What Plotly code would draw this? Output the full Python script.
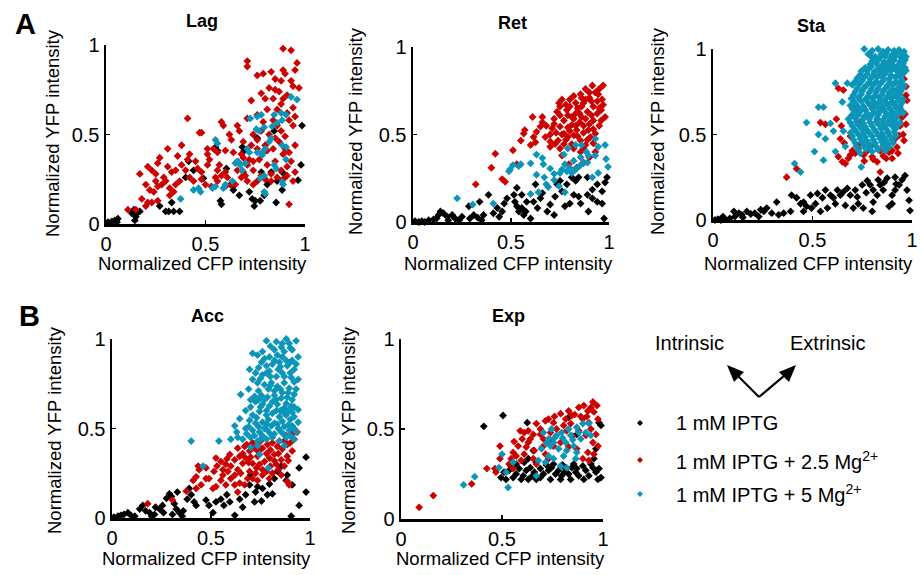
import plotly.graph_objects as go

# ---------------- data ----------------
panels = ["Lag", "Ret", "Sta", "Acc", "Exp"]
series_names = ["1 mM IPTG", "1 mM IPTG + 2.5 Mg<sup>2+</sup>", "1 mM IPTG + 5 Mg<sup>2+</sup>"]
tick_vals = [0, 0.5, 1]
tick_text = ["0", "0.5", "1"]

lag_black = [(0.01,0.01),(0.03,0.015),(0.045,0.02),(0.055,0.01),(0.02,0.005),(0.14,0.08),(0.13,0.06),(0.155,0.06),(0.145,0.02),(0.17,0.07),(0.27,0.10),(0.30,0.07),(0.315,0.07),(0.34,0.07),(0.37,0.07),(0.33,0.12),(0.40,0.26),(0.415,0.35),(0.55,0.43),(0.56,0.41),(0.575,0.13),(0.58,0.11),(0.64,0.19),(0.625,0.22),(0.685,0.43),(0.695,0.41),(0.735,0.14),(0.75,0.13),(0.745,0.10),(0.775,0.13),(0.795,0.16),(0.855,0.12),(0.885,0.29),(0.905,0.27),(0.965,0.245),(0.98,0.33),(0.985,0.55),(0.845,0.52),(0.76,0.48),(0.44,0.30),(0.49,0.255),(0.605,0.31),(0.665,0.345),(0.78,0.29),(0.81,0.22),(0.86,0.24),(0.885,0.19),(0.83,0.29),(0.06,0.03),(0.15,0.04),(0.72,0.18),(0.67,0.16)]
lag_red = [(0.89,0.98),(0.93,0.97),(0.71,0.91),(0.71,0.88),(0.96,0.90),(0.95,0.86),(0.89,0.86),(0.90,0.84),(0.83,0.85),(0.79,0.84),(0.76,0.83),(0.85,0.81),(0.88,0.80),(0.93,0.80),(0.94,0.77),(0.97,0.76),(0.82,0.76),(0.85,0.75),(0.87,0.74),(0.78,0.73),(0.80,0.70),(0.84,0.70),(0.91,0.72),(0.89,0.70),(0.73,0.69),(0.88,0.67),(0.94,0.65),(0.81,0.64),(0.76,0.61),(0.71,0.59),(0.79,0.57),(0.95,0.60),(0.94,0.55),
           (0.41,0.59),(0.58,0.57),(0.59,0.55),(0.66,0.55),(0.67,0.52),(0.47,0.51),(0.48,0.51),(0.62,0.50),(0.63,0.47),(0.74,0.50),(0.76,0.47),(0.38,0.44),(0.31,0.42),(0.51,0.42),(0.54,0.42),(0.60,0.41),(0.56,0.40),(0.42,0.39),(0.41,0.36),(0.38,0.33),(0.51,0.39),(0.52,0.36),(0.27,0.37),(0.26,0.34),(0.36,0.38),(0.21,0.32),(0.23,0.30),(0.25,0.28),(0.17,0.28),(0.31,0.32),(0.33,0.29),(0.35,0.30),(0.46,0.31),(0.48,0.29),(0.51,0.33),(0.56,0.30),(0.58,0.27),(0.60,0.29),(0.64,0.40),(0.68,0.39),(0.69,0.37),(0.71,0.33),(0.74,0.35),(0.74,0.30),(0.79,0.40),(0.81,0.41),(0.84,0.42),(0.89,0.39),(0.90,0.42),(0.92,0.40),(0.85,0.48),(0.87,0.46),(0.82,0.50),(0.90,0.49),(0.81,0.33),(0.85,0.35),(0.91,0.32),(0.78,0.27),(0.80,0.25),(0.83,0.24),(0.76,0.24),(0.68,0.26),(0.71,0.24),(0.74,0.22),(0.65,0.22),(0.61,0.26),(0.63,0.22),(0.56,0.24),(0.53,0.21),(0.42,0.26),(0.44,0.24),(0.48,0.25),(0.50,0.22),(0.37,0.24),(0.35,0.22),(0.32,0.20),(0.29,0.26),(0.28,0.22),(0.26,0.21),(0.20,0.22),(0.22,0.19),(0.24,0.18),(0.21,0.12),(0.23,0.12),(0.26,0.13),(0.20,0.10),(0.32,0.16),(0.34,0.18),(0.11,0.08),(0.15,0.08),(0.92,0.11),(0.91,0.27),(0.94,0.24),(0.95,0.29),(0.60,0.21),(0.69,0.29),
           (0.66,0.30),(0.70,0.27),(0.72,0.36),(0.77,0.36),(0.86,0.55),(0.88,0.52),(0.92,0.58),(0.91,0.62),(0.86,0.64),(0.84,0.58),(0.78,0.52),(0.73,0.44),(0.76,0.42),(0.55,0.26),(0.45,0.35),(0.40,0.30),(0.30,0.24),(0.18,0.14),(0.88,0.30),(0.93,0.35),(0.95,0.44),(0.80,0.44),(0.69,0.46),(0.57,0.33),(0.25,0.24),(0.83,0.28),(0.86,0.26),(0.89,0.25)]
lag_cyan = [(0.55,0.47),(0.56,0.45),(0.375,0.14),(0.44,0.19),(0.465,0.20),(0.475,0.18),(0.535,0.20),(0.55,0.21),(0.635,0.24),(0.65,0.34),(0.66,0.35),(0.675,0.33),(0.71,0.42),(0.72,0.40),(0.725,0.59),(0.76,0.60),(0.78,0.61),(0.755,0.53),(0.77,0.52),(0.795,0.54),(0.76,0.40),(0.785,0.40),(0.80,0.42),(0.835,0.545),(0.86,0.565),(0.885,0.58),(0.905,0.61),(0.845,0.61),(0.88,0.62),(0.93,0.71),(0.96,0.695),(0.885,0.44),(0.905,0.43),(0.845,0.33),(0.855,0.31),(0.885,0.235),(0.89,0.22),(0.905,0.36),(0.795,0.18),(0.80,0.17),(0.795,0.27),(0.785,0.385),(0.82,0.46),(0.83,0.48),(0.685,0.30),(0.775,0.255),(0.60,0.22),(0.59,0.20),(0.70,0.34)]

ret_black = [(0.01,0.005),(0.03,0.0),(0.045,0.005),(0.06,0.0),(0.08,0.01),(0.105,0.015),(0.13,0.04),(0.14,0.06),(0.155,0.05),(0.175,0.03),(0.20,0.04),(0.215,0.02),(0.235,0.01),(0.18,0.01),(0.29,0.02),(0.31,0.04),(0.33,0.025),(0.35,0.01),(0.36,0.04),(0.285,0.09),(0.34,0.115),(0.385,0.155),(0.41,0.05),(0.43,0.08),(0.455,0.06),(0.465,0.105),(0.515,0.155),(0.52,0.115),(0.53,0.09),(0.54,0.06),(0.555,0.08),(0.565,0.04),(0.53,0.195),(0.555,0.155),(0.58,0.115),(0.575,0.06),(0.615,0.115),(0.635,0.08),(0.65,0.135),(0.66,0.165),(0.685,0.06),(0.70,0.10),(0.72,0.04),(0.725,0.145),(0.76,0.175),(0.785,0.215),(0.81,0.255),(0.83,0.235),(0.845,0.255),(0.775,0.09),(0.80,0.105),(0.82,0.155),(0.845,0.145),(0.855,0.105),(0.89,0.155),(0.895,0.06),(0.915,0.135),(0.94,0.115),(0.965,0.105),(0.975,0.02),(0.99,0.255),(0.98,0.225),(0.965,0.175),(0.915,0.185),(0.89,0.255),(0.94,0.215),(0.75,0.235),(0.735,0.215),(0.625,0.215),(0.48,0.135),(0.12,0.02),(0.25,0.03),(0.60,0.02),(0.44,0.03)]
ret_red = [(0.97,0.78),(0.95,0.76),(0.93,0.74),(0.90,0.71),(0.91,0.69),(0.87,0.68),(0.80,0.70),(0.78,0.67),(0.75,0.66),(0.84,0.65),(0.85,0.62),(0.89,0.63),(0.95,0.65),(0.98,0.60),(0.96,0.58),(0.92,0.58),(0.90,0.56),(0.87,0.55),(0.82,0.59),(0.79,0.61),(0.77,0.58),(0.72,0.59),(0.68,0.55),(0.66,0.57),(0.65,0.545),(0.61,0.60),(0.66,0.60),(0.57,0.525),(0.565,0.505),(0.63,0.515),(0.615,0.485),(0.75,0.545),(0.77,0.505),(0.79,0.485),(0.82,0.495),(0.74,0.465),(0.725,0.445),(0.70,0.43),(0.855,0.465),(0.905,0.485),(0.93,0.505),(0.835,0.525),(0.81,0.555),(0.895,0.525),(0.55,0.465),(0.51,0.41),(0.42,0.39),(0.40,0.31),(0.32,0.215),(0.455,0.245),(0.47,0.23),(0.53,0.33),(0.60,0.44),(0.625,0.455),(0.76,0.38),(0.795,0.33),(0.835,0.31),(0.87,0.34),(0.855,0.40),(0.93,0.40),(0.945,0.73),(0.965,0.70),(0.855,0.73),(0.88,0.76),(0.915,0.78),(0.735,0.63),(0.785,0.64),(0.71,0.535),(0.675,0.485),(0.81,0.445),(0.77,0.445),(0.745,0.68),(0.76,0.70),
           (0.80,0.66),(0.83,0.68),(0.86,0.66),(0.88,0.70),(0.92,0.66),(0.94,0.62),(0.96,0.64),(0.83,0.62),(0.81,0.60),(0.86,0.60),(0.88,0.59),(0.91,0.61),(0.85,0.57),(0.79,0.54),(0.83,0.55),(0.87,0.51),(0.92,0.53),(0.89,0.47),(0.73,0.51),(0.70,0.50),(0.75,0.61),(0.72,0.56),(0.76,0.50),(0.84,0.49),(0.80,0.52),(0.94,0.69),(0.90,0.74),(0.86,0.71),(0.82,0.72),(0.97,0.67),(0.95,0.55),(0.88,0.44),(0.92,0.45),(0.78,0.47),(0.82,0.42),(0.87,0.42),(0.70,0.46),(0.75,0.42),(0.90,0.37)]
ret_cyan = [(0.225,0.135),(0.305,0.10),(0.41,0.105),(0.495,0.30),(0.49,0.29),(0.51,0.325),(0.54,0.32),(0.60,0.335),(0.63,0.385),(0.63,0.27),(0.66,0.365),(0.665,0.33),(0.67,0.255),(0.70,0.305),(0.68,0.215),(0.69,0.20),(0.745,0.205),(0.60,0.16),(0.64,0.17),(0.775,0.17),(0.79,0.42),(0.77,0.385),(0.775,0.33),(0.75,0.28),(0.785,0.29),(0.81,0.28),(0.83,0.30),(0.83,0.44),(0.86,0.44),(0.885,0.40),(0.855,0.37),(0.895,0.38),(0.93,0.38),(0.93,0.475),(0.945,0.43),(0.98,0.44),(0.985,0.36),(0.995,0.315),(0.945,0.28),(0.915,0.255),(0.87,0.335),(0.72,0.275),(0.55,0.33),(0.80,0.31),(0.82,0.35),(0.76,0.30),(0.85,0.32),(0.89,0.34),(0.72,0.24)]

sta_black = [(0.01,0.0),(0.025,0.005),(0.04,0.0),(0.06,0.005),(0.085,0.01),(0.105,0.05),(0.13,0.04),(0.145,0.03),(0.17,0.05),(0.19,0.035),(0.21,0.04),(0.24,0.06),(0.255,0.05),(0.27,0.07),(0.295,0.04),(0.32,0.105),(0.355,0.04),(0.39,0.05),(0.395,0.145),(0.42,0.13),(0.44,0.095),(0.455,0.105),(0.47,0.08),(0.495,0.07),(0.455,0.05),(0.49,0.145),(0.515,0.095),(0.54,0.05),(0.55,0.13),(0.565,0.175),(0.59,0.145),(0.605,0.13),(0.625,0.175),(0.64,0.145),(0.655,0.165),(0.675,0.185),(0.69,0.145),(0.715,0.175),(0.665,0.085),(0.705,0.07),(0.73,0.095),(0.755,0.07),(0.75,0.205),(0.775,0.23),(0.79,0.205),(0.805,0.175),(0.83,0.235),(0.84,0.205),(0.855,0.175),(0.825,0.145),(0.875,0.245),(0.90,0.145),(0.915,0.175),(0.935,0.205),(0.95,0.235),(0.965,0.26),(0.975,0.175),(0.985,0.115),(0.99,0.055),(0.90,0.095),(0.885,0.08),(0.80,0.05),(0.805,0.105),(0.915,0.25),(0.725,0.135),(0.615,0.095),(0.575,0.07),(0.525,0.155),(0.05,0.02),(0.11,0.02),(0.23,0.02),(0.33,0.03),(0.15,0.015),(0.86,0.22),(0.92,0.21),(0.77,0.16)]
sta_red = [(0.63,0.77),(0.655,0.76),(0.54,0.57),(0.565,0.56),(0.37,0.25),(0.42,0.30),(0.62,0.59),(0.64,0.475),(0.63,0.37),(0.65,0.34),(0.665,0.33),(0.69,0.38),(0.715,0.39),(0.79,0.435),(0.80,0.37),(0.825,0.34),(0.84,0.405),(0.875,0.415),(0.90,0.405),(0.915,0.475),(0.935,0.495),(0.925,0.425),(0.96,0.825),(0.97,0.73),(0.95,0.60),(0.94,0.55),(0.84,0.28),(0.757,0.38),(0.775,0.405),(0.74,0.445),(0.825,0.59),(0.805,0.67),(0.84,0.87),(0.715,0.67),(0.725,0.64),(0.74,0.575),(0.69,0.49),(0.755,0.535),(0.855,0.375),(0.885,0.395),(0.805,0.355),(0.70,0.405),(0.73,0.415),(0.96,0.465),(0.94,0.65),(0.97,0.78),(0.975,0.70),(0.965,0.62),(0.97,0.56),(0.955,0.50),(0.90,0.36),(0.87,0.36),(0.93,0.39),(0.76,0.345),(0.68,0.36),(0.66,0.45),(0.645,0.55),(0.86,0.44)]
sta_cyan = [(0.47,0.57),(0.53,0.66),(0.555,0.66),(0.51,0.40),(0.555,0.35),(0.41,0.33),(0.44,0.28),(0.53,0.50),(0.565,0.475),(0.59,0.565),(0.615,0.80),(0.675,0.80),(0.65,0.69),(0.605,0.52),(0.615,0.40),(0.655,0.52),(0.745,0.31),(0.665,0.43),(0.76,1.0),(0.78,0.97),(0.80,0.95),
            (0.80,0.99),(0.83,1.0),(0.855,0.985),(0.88,0.995),(0.91,0.99),(0.935,0.995),(0.96,0.985),
            (0.815,0.955),(0.84,0.95),(0.865,0.96),(0.89,0.945),(0.915,0.955),(0.945,0.95),(0.97,0.955),
            (0.79,0.91),(0.82,0.915),(0.85,0.905),(0.875,0.915),(0.90,0.91),(0.93,0.905),(0.955,0.915),
            (0.745,0.87),(0.775,0.875),(0.81,0.865),(0.84,0.875),(0.87,0.865),(0.895,0.875),(0.925,0.87),(0.95,0.865),(0.97,0.875),
            (0.725,0.83),(0.76,0.835),(0.79,0.825),(0.825,0.835),(0.855,0.83),(0.885,0.825),(0.915,0.835),(0.945,0.83),
            (0.70,0.79),(0.735,0.795),(0.77,0.785),(0.805,0.79),(0.84,0.795),(0.875,0.785),(0.905,0.79),(0.935,0.795),(0.96,0.785),
            (0.715,0.75),(0.75,0.755),(0.785,0.745),(0.82,0.75),(0.855,0.755),(0.885,0.745),(0.915,0.75),(0.945,0.755),
            (0.695,0.71),(0.73,0.715),(0.765,0.705),(0.80,0.71),(0.835,0.715),(0.865,0.705),(0.895,0.71),(0.93,0.715),(0.955,0.705),
            (0.69,0.67),(0.72,0.675),(0.755,0.665),(0.79,0.67),(0.82,0.675),(0.85,0.665),(0.88,0.67),(0.91,0.675),(0.94,0.665),
            (0.71,0.63),(0.74,0.635),(0.775,0.625),(0.81,0.63),(0.84,0.635),(0.87,0.625),(0.90,0.63),(0.93,0.635),(0.955,0.625),
            (0.68,0.59),(0.715,0.595),(0.75,0.585),(0.785,0.59),(0.825,0.595),(0.855,0.585),(0.89,0.59),(0.92,0.595),
            (0.70,0.55),(0.73,0.555),(0.765,0.545),(0.80,0.55),(0.835,0.555),(0.865,0.545),(0.90,0.55),(0.93,0.555),
            (0.69,0.51),(0.72,0.515),(0.755,0.505),(0.785,0.51),(0.82,0.515),(0.85,0.505),(0.88,0.51),(0.91,0.515),
            (0.705,0.47),(0.74,0.475),(0.77,0.465),(0.805,0.47),(0.84,0.475),(0.87,0.465),(0.90,0.47),
            (0.72,0.43),(0.755,0.435),(0.79,0.425),(0.82,0.43),(0.855,0.435),(0.885,0.425),
            (0.74,0.39),(0.80,0.40),
            (0.79,0.975),(0.845,0.97),(0.87,0.975),(0.90,0.965),(0.925,0.975),(0.95,0.97),
            (0.80,0.93),(0.83,0.935),(0.86,0.925),(0.885,0.93),(0.91,0.935),(0.94,0.925),(0.965,0.935),
            (0.765,0.89),(0.795,0.895),(0.83,0.885),(0.86,0.895),(0.885,0.89),(0.915,0.885),(0.94,0.895),(0.965,0.89),
            (0.74,0.85),(0.775,0.855),(0.805,0.845),(0.835,0.85),(0.865,0.855),(0.895,0.845),(0.93,0.85),(0.955,0.855),
            (0.715,0.81),(0.75,0.815),(0.785,0.805),(0.82,0.81),(0.855,0.815),(0.89,0.805),(0.92,0.81),(0.95,0.815),
            (0.725,0.77),(0.76,0.775),(0.795,0.765),(0.83,0.77),(0.87,0.775),(0.90,0.765),(0.93,0.77),(0.955,0.775),
            (0.705,0.73),(0.745,0.735),(0.78,0.725),(0.815,0.73),(0.85,0.735),(0.88,0.725),(0.91,0.73),(0.94,0.735),
            (0.71,0.69),(0.745,0.695),(0.78,0.685),(0.81,0.69),(0.84,0.695),(0.87,0.685),(0.90,0.69),(0.925,0.695),(0.95,0.685),
            (0.70,0.65),(0.73,0.655),(0.765,0.645),(0.80,0.65),(0.83,0.655),(0.86,0.645),(0.89,0.65),(0.92,0.655),(0.945,0.645),
            (0.695,0.61),(0.73,0.615),(0.76,0.605),(0.795,0.61),(0.83,0.615),(0.865,0.605),(0.895,0.61),(0.925,0.615),
            (0.69,0.57),(0.72,0.575),(0.755,0.565),(0.79,0.57),(0.82,0.575),(0.85,0.565),(0.88,0.57),(0.91,0.575),(0.94,0.57),
            (0.71,0.53),(0.745,0.535),(0.775,0.525),(0.81,0.53),(0.845,0.535),(0.875,0.525),(0.915,0.53),
            (0.70,0.49),(0.735,0.495),(0.765,0.485),(0.80,0.49),(0.83,0.495),(0.86,0.485),(0.89,0.49),(0.92,0.495),
            (0.715,0.45),(0.75,0.455),(0.785,0.445),(0.815,0.45),(0.85,0.455),(0.88,0.445),(0.905,0.45),
            (0.73,0.41),(0.77,0.415),(0.83,0.41),(0.865,0.405)]

acc_black = [(0.01,0.005),(0.03,0.01),(0.045,0.015),(0.06,0.02),(0.08,0.03),(0.095,0.015),(0.115,0.01),(0.14,0.05),(0.155,0.07),(0.17,0.04),(0.19,0.03),(0.215,0.02),(0.22,0.06),(0.24,0.05),(0.255,0.07),(0.275,0.11),(0.29,0.135),(0.30,0.12),(0.315,0.08),(0.325,0.05),(0.34,0.03),(0.355,0.01),(0.305,0.02),(0.33,0.145),(0.39,0.165),(0.40,0.13),(0.415,0.09),(0.38,0.105),(0.425,0.07),(0.475,0.10),(0.49,0.07),(0.51,0.03),(0.525,0.09),(0.55,0.105),(0.565,0.07),(0.595,0.09),(0.62,0.015),(0.645,0.105),(0.675,0.13),(0.695,0.185),(0.725,0.145),(0.76,0.165),(0.785,0.13),(0.81,0.135),(0.835,0.26),(0.855,0.29),(0.885,0.24),(0.91,0.185),(0.945,0.28),(0.98,0.34),(0.98,0.145),(0.945,0.07),(0.905,0.01),(0.70,0.24),(0.82,0.22),(0.88,0.21),(0.795,0.19),(0.735,0.175),(0.72,0.09),(0.755,0.095),(0.36,0.04),(0.20,0.01),(0.26,0.03),(0.58,0.13),(0.66,0.06)]
acc_red = [(0.18,0.08),(0.305,0.10),(0.375,0.15),(0.41,0.21),(0.425,0.23),(0.435,0.29),(0.44,0.27),(0.475,0.28),(0.49,0.22),(0.515,0.26),(0.525,0.335),(0.55,0.315),(0.575,0.30),(0.51,0.165),(0.56,0.24),(0.585,0.26),(0.60,0.22),(0.62,0.24),(0.635,0.27),(0.595,0.355),(0.62,0.325),(0.645,0.345),(0.66,0.305),(0.675,0.335),(0.635,0.39),(0.67,0.40),(0.695,0.375),(0.72,0.39),(0.735,0.345),(0.71,0.305),(0.745,0.30),(0.77,0.315),(0.795,0.335),(0.82,0.355),(0.76,0.39),(0.785,0.41),(0.81,0.42),(0.835,0.40),(0.86,0.385),(0.885,0.41),(0.845,0.43),(0.88,0.46),(0.91,0.47),(0.935,0.48),(0.92,0.44),(0.855,0.325),(0.885,0.345),(0.91,0.375),(0.83,0.30),(0.695,0.26),(0.725,0.25),(0.76,0.24),(0.795,0.22),(0.735,0.21),(0.71,0.22),(0.685,0.22),(0.67,0.185),(0.645,0.195),(0.62,0.185),(0.885,0.205),(0.895,0.185),(0.855,0.24),(0.55,0.21),(0.575,0.185),(0.525,0.175),(0.475,0.22),(0.45,0.185),(0.425,0.165),(0.635,0.145),(0.78,0.26),(0.81,0.25),
           (0.70,0.34),(0.74,0.37),(0.78,0.36),(0.80,0.38),(0.84,0.36),(0.87,0.43),(0.90,0.42),(0.66,0.36),(0.69,0.31),(0.73,0.28),(0.76,0.27),(0.80,0.29),(0.84,0.27),(0.60,0.29),(0.58,0.33),(0.65,0.25),(0.75,0.43),(0.68,0.41),(0.71,0.42),(0.82,0.32),(0.87,0.29),(0.89,0.32),(0.53,0.29),(0.56,0.27)]
acc_cyan = [(0.78,0.99),(0.83,0.985),(0.88,1.0),(0.895,0.975),(0.93,0.99),(0.855,0.955),
            (0.71,0.92),(0.735,0.91),(0.76,0.93),(0.795,0.90),(0.835,0.91),(0.87,0.93),(0.91,0.94),(0.94,0.90),
            (0.755,0.87),(0.78,0.85),(0.81,0.86),(0.845,0.87),(0.885,0.85),(0.92,0.83),
            (0.695,0.83),(0.725,0.81),(0.76,0.80),(0.795,0.82),(0.83,0.79),(0.86,0.81),(0.905,0.785),(0.94,0.775),(0.71,0.775),
            (0.735,0.755),(0.77,0.745),(0.805,0.755),(0.835,0.735),(0.87,0.755),(0.895,0.725),(0.93,0.72),
            (0.65,0.69),(0.755,0.685),(0.785,0.675),(0.82,0.685),(0.855,0.67),(0.885,0.675),(0.91,0.66),
            (0.725,0.65),(0.76,0.635),(0.795,0.625),(0.835,0.635),(0.87,0.615),(0.905,0.625),(0.94,0.605),
            (0.675,0.60),(0.71,0.575),(0.745,0.595),(0.78,0.575),(0.81,0.585),(0.845,0.565),(0.88,0.575),(0.92,0.565),
            (0.645,0.555),(0.695,0.545),(0.725,0.53),(0.76,0.535),(0.805,0.515),(0.835,0.525),(0.87,0.51),(0.91,0.515),(0.94,0.535),
            (0.62,0.515),(0.675,0.50),(0.71,0.49),(0.745,0.48),(0.785,0.49),(0.82,0.47),(0.855,0.48),(0.895,0.49),
            (0.60,0.44),(0.635,0.45),(0.66,0.44),(0.70,0.45),(0.735,0.43),(0.78,0.44),(0.81,0.45),(0.845,0.43),(0.88,0.45),(0.92,0.44),
            (0.40,0.43),(0.54,0.43),(0.70,0.395),(0.735,0.405),(0.745,0.355),(0.87,0.405),(0.79,0.28),(0.46,0.29),
            (0.79,0.72),(0.82,0.71),(0.86,0.70),(0.74,0.71),(0.77,0.66),(0.81,0.65),(0.85,0.60),(0.89,0.60),(0.75,0.62),(0.72,0.68),(0.69,0.72),(0.80,0.79),(0.84,0.83),(0.88,0.88),(0.82,0.94),(0.86,0.90),(0.90,0.81),(0.91,0.88),(0.79,0.55),(0.73,0.56),(0.86,0.54),(0.90,0.55),(0.77,0.50),(0.84,0.50),(0.68,0.47),(0.93,0.48),(0.63,0.48),(0.76,0.46),
            (0.80,0.96),(0.86,0.975),(0.90,0.95),(0.77,0.89),(0.82,0.88),(0.85,0.845),(0.90,0.87),(0.93,0.86),(0.74,0.84),(0.78,0.81),(0.87,0.79),(0.92,0.76),(0.75,0.78),(0.80,0.74),(0.85,0.72),(0.89,0.70),(0.92,0.69),(0.70,0.66),(0.74,0.66),(0.83,0.66),(0.88,0.64),(0.92,0.62),(0.70,0.62),(0.78,0.60),(0.83,0.60),(0.87,0.585),(0.91,0.59),(0.69,0.51),(0.74,0.51),(0.78,0.525),(0.82,0.53),(0.89,0.52),(0.92,0.50),(0.72,0.46),(0.80,0.47),(0.87,0.465),(0.90,0.46),(0.75,0.44)]

exp_black = [(0.41,0.515),(0.505,0.575),(0.625,0.535),(0.83,0.565),(0.98,0.535),(0.99,0.52),(0.965,0.39),(0.87,0.47),(0.655,0.38),(0.63,0.335),(0.67,0.315),
             (0.495,0.23),(0.51,0.26),(0.535,0.27),(0.555,0.23),(0.57,0.25),(0.585,0.28),(0.605,0.24),(0.62,0.27),(0.64,0.285),(0.66,0.26),(0.69,0.28),(0.705,0.25),(0.73,0.27),(0.745,0.285),(0.765,0.25),(0.78,0.27),(0.795,0.24),(0.815,0.28),(0.83,0.25),(0.845,0.285),(0.865,0.26),(0.88,0.24),(0.90,0.295),(0.915,0.27),(0.93,0.24),(0.95,0.285),(0.965,0.26),(0.98,0.28),(0.99,0.23),(0.975,0.22),(0.545,0.295),(0.57,0.305),(0.61,0.315),(0.74,0.22),(0.84,0.22),(0.905,0.22),(0.79,0.22),(0.69,0.23),(0.63,0.22),(0.595,0.22),(0.52,0.22),(0.67,0.22),(0.94,0.305),(0.755,0.305),(0.855,0.305),(0.955,0.335),(0.80,0.30),(0.72,0.30),(0.81,0.26),(0.87,0.28),(0.65,0.24)]
exp_red = [(0.09,0.065),(0.16,0.13),(0.35,0.195),(0.425,0.28),(0.465,0.28),(0.49,0.335),(0.49,0.405),(0.545,0.335),(0.555,0.37),(0.58,0.405),(0.59,0.49),(0.61,0.48),(0.63,0.49),(0.60,0.445),(0.63,0.425),(0.655,0.47),(0.67,0.53),(0.69,0.50),(0.715,0.545),(0.73,0.555),(0.755,0.535),(0.79,0.585),(0.815,0.555),(0.83,0.60),(0.845,0.575),(0.88,0.62),(0.905,0.63),(0.925,0.60),(0.95,0.65),(0.955,0.595),(0.975,0.555),(0.93,0.535),(0.90,0.555),(0.57,0.35),(0.595,0.325),(0.655,0.335),(0.67,0.305),(0.555,0.28),(0.535,0.305),(0.64,0.445),(0.705,0.445),(0.74,0.48),(0.77,0.50),(0.805,0.52),(0.84,0.53),(0.88,0.49),(0.915,0.465),(0.95,0.425),(0.925,0.37),(0.955,0.36),(0.975,0.405),(0.965,0.47),(0.94,0.50),(0.755,0.405),(0.79,0.425),(0.83,0.40),(0.87,0.39),(0.90,0.335),(0.93,0.325),(0.715,0.36),(0.73,0.335),(0.47,0.26),
           (0.62,0.40),(0.66,0.38),(0.70,0.40),(0.74,0.44),(0.86,0.58),(0.89,0.57),(0.92,0.57),(0.82,0.49),(0.85,0.46),(0.56,0.43),(0.61,0.36),(0.69,0.47),(0.76,0.57),(0.94,0.62),(0.97,0.63)]
exp_cyan = [(0.31,0.19),(0.365,0.235),(0.50,0.36),(0.485,0.285),(0.53,0.175),(0.52,0.26),(0.555,0.315),(0.67,0.24),(0.68,0.325),(0.695,0.39),(0.705,0.48),(0.73,0.445),(0.745,0.50),(0.755,0.425),(0.77,0.465),(0.78,0.39),(0.795,0.48),(0.815,0.425),(0.83,0.50),(0.84,0.465),(0.855,0.405),(0.87,0.51),(0.89,0.445),(0.90,0.53),(0.93,0.53),(0.94,0.465),(0.915,0.48),(0.73,0.35),(0.715,0.315),(0.79,0.295),(0.82,0.285),(0.865,0.335),(0.755,0.335),(0.74,0.405),(0.805,0.35),(0.87,0.37),(0.80,0.45),(0.76,0.45),(0.85,0.44),(0.88,0.48),(0.72,0.42),(0.82,0.38)]

panel_data = {
    "Lag": [lag_black, lag_red, lag_cyan],
    "Ret": [ret_black, ret_red, ret_cyan],
    "Sta": [sta_black, sta_red, sta_cyan],
    "Acc": [acc_black, acc_red, acc_cyan],
    "Exp": [exp_black, exp_red, exp_cyan],
}

# ---------------- layout / style ----------------
W, H = 921, 575
colors = ["#000000", "#cc0000", "#0b96b9"]
FONT = "Liberation Sans, Arial, sans-serif"

def PX(x):
    return x / W

def PY(y):
    return 1 - y / H

# pixel boxes of each axes: (x0, x1, y_bottom, y_top)
boxes = {
    "Lag": (106, 305, 224, 45),
    "Ret": (413, 609, 222, 47),
    "Sta": (713, 912, 220, 49),
    "Acc": (112, 310, 518, 339),
    "Exp": (401, 603, 519, 339),
}
title_pos = {"Lag": (202, 21), "Ret": (512, 23), "Sta": (811, 26), "Acc": (207, 316), "Exp": (508, 316)}
xlab_pos = {"Lag": (202, 264), "Ret": (508, 264), "Sta": (808, 264), "Acc": (206, 558), "Exp": (500, 558)}
ylab_pos = {"Lag": (52, 133), "Ret": (355, 131), "Sta": (657, 131), "Acc": (54, 430), "Exp": (348, 430)}

fig = go.Figure()
layout = dict(
    width=W, height=H, autosize=False,
    margin=dict(l=0, r=0, t=0, b=0, pad=0, autoexpand=False),
    paper_bgcolor="white", plot_bgcolor="white", showlegend=False,
    font=dict(family=FONT, color="black"),
)
annotations = []
shapes = []

for i, p in enumerate(panels):
    n = "" if i == 0 else str(i + 1)
    x0, x1, yb, yt = boxes[p]
    axis_common = dict(
        range=[0, 1], showgrid=False, zeroline=False, showline=True,
        linecolor="black", linewidth=2.5, ticks="inside", ticklen=4,
        tickwidth=1.5, tickcolor="black", tickvals=tick_vals, ticktext=tick_text,
        tickfont=dict(size=20, family=FONT, color="black"), fixedrange=True,
        automargin=False,
    )
    layout["xaxis" + n] = dict(axis_common, domain=[PX(x0), PX(x1)], anchor="y" + n)
    layout["yaxis" + n] = dict(axis_common, domain=[PY(yb), PY(yt)], anchor="x" + n)
    for s, pts in enumerate(panel_data[p]):
        fig.add_trace(go.Scatter(
            x=[q[0] for q in pts], y=[q[1] for q in pts], mode="markers",
            xaxis="x" + n, yaxis="y" + n, cliponaxis=False, name=series_names[s],
            marker=dict(symbol="diamond", size=6, color=colors[s], line=dict(width=0)),
        ))
    tx, ty = title_pos[p]
    annotations.append(dict(text="<b>%s</b>" % p, x=PX(tx), y=PY(ty), xref="paper", yref="paper",
                            showarrow=False, xanchor="center", yanchor="middle",
                            font=dict(size=18, family=FONT)))
    lx, ly = xlab_pos[p]
    annotations.append(dict(text="Normalized CFP intensity", x=PX(lx), y=PY(ly), xref="paper", yref="paper",
                            showarrow=False, xanchor="center", yanchor="middle",
                            font=dict(size=18.5, family=FONT)))
    vx, vy = ylab_pos[p]
    annotations.append(dict(text="Normalized YFP intensity", x=PX(vx), y=PY(vy), xref="paper", yref="paper",
                            showarrow=False, xanchor="center", yanchor="middle", textangle=-90,
                            font=dict(size=18.5, family=FONT)))

# panel letters
for letter, (lx, ly) in {"A": (25, 24), "B": (29, 316)}.items():
    annotations.append(dict(text="<b>%s</b>" % letter, x=PX(lx), y=PY(ly), xref="paper", yref="paper",
                            showarrow=False, xanchor="center", yanchor="middle",
                            font=dict(size=29, family=FONT)))

# Intrinsic / Extrinsic with arrows (drawn as shapes)
annotations.append(dict(text="Intrinsic", x=PX(689), y=PY(343), xref="paper", yref="paper",
                        showarrow=False, xanchor="center", yanchor="middle", font=dict(size=20, family=FONT)))
annotations.append(dict(text="Extrinsic", x=PX(828), y=PY(343), xref="paper", yref="paper",
                        showarrow=False, xanchor="center", yanchor="middle", font=dict(size=20, family=FONT)))
vertex = (759, 397)
for head, sgn in [((727, 365), -1), ((796, 365), 1)]:
    shapes.append(dict(type="line", xref="paper", yref="paper",
                       x0=PX(vertex[0]), y0=PY(vertex[1]),
                       x1=PX(head[0] - sgn * 5), y1=PY(head[1] + 5),
                       line=dict(color="black", width=2.2)))
    hx, hy = head
    bx, by = hx - sgn * 12, hy + 12  # base centre of the arrow head
    ox, oy = 5, sgn * 5              # perpendicular half-width
    path = "M %f %f L %f %f L %f %f Z" % (
        PX(hx), PY(hy), PX(bx + ox), PY(by + oy), PX(bx - ox), PY(by - oy))
    shapes.append(dict(type="path", path=path, xref="paper", yref="paper",
                       fillcolor="black", line=dict(width=0)))

# custom legend
legend_rows = [423, 460, 494]
for s, ry in enumerate(legend_rows):
    cx, r = 640, 3
    path = "M %f %f L %f %f L %f %f L %f %f Z" % (
        PX(cx - r), PY(ry), PX(cx), PY(ry - r), PX(cx + r), PY(ry), PX(cx), PY(ry + r))
    shapes.append(dict(type="path", path=path, xref="paper", yref="paper",
                       fillcolor=colors[s], line=dict(width=0)))
    annotations.append(dict(text=series_names[s], x=PX(674), y=PY(ry), xref="paper", yref="paper",
                            showarrow=False, xanchor="left", yanchor="middle",
                            font=dict(size=20, family=FONT)))

layout["annotations"] = annotations
layout["shapes"] = shapes
fig.update_layout(**layout)
fig.write_html(
    "out.html",
    config={"displayModeBar": False, "staticPlot": True},
    post_script="document.body.style.margin='0px';document.body.style.overflow='hidden';",
)
